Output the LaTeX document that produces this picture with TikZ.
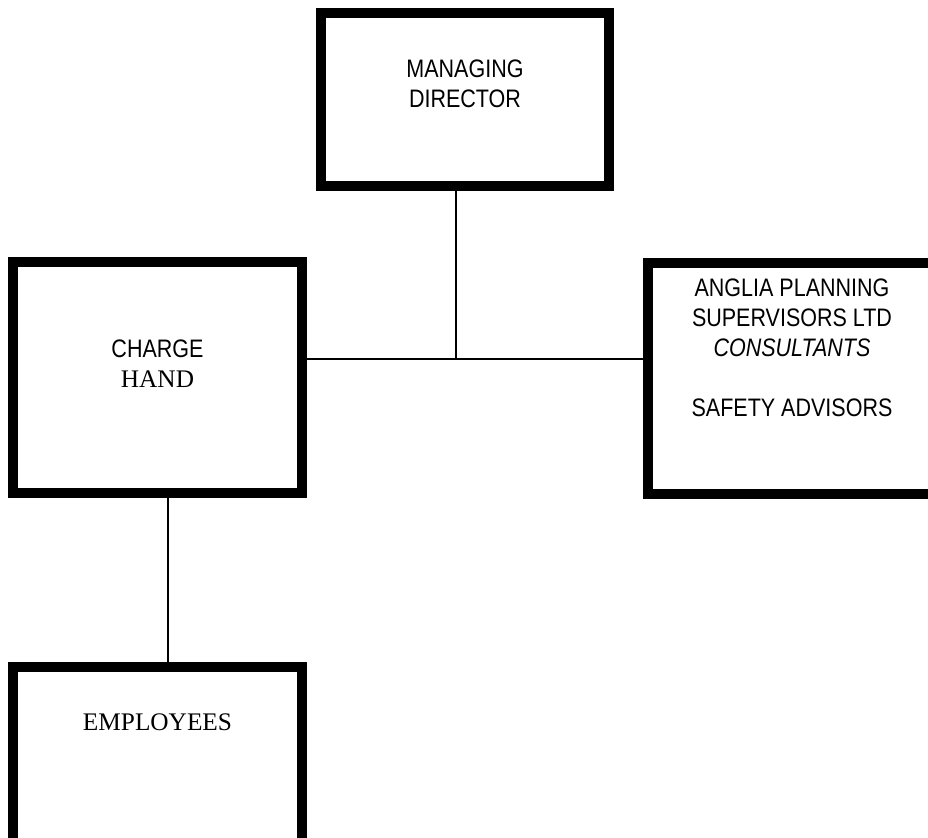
\documentclass[tikz,border=0pt]{standalone}
\usepackage{fontspec}
\setmainfont[FakeStretch=0.85]{Liberation Sans}
\newfontfamily\timesface{Liberation Serif}
\begin{document}
\begin{tikzpicture}[
  orgbox/.style={draw, line width=0.25cm, fill=white, inner sep=0pt},
  orgtext/.style={align=center, anchor=north, inner sep=0pt, font=\fontsize{18}{21.34}\selectfont},
  link/.style={line width=0.9pt}
]
\useasboundingbox (0,0) rectangle (23.2,-20.95);
\clip (0,0) rectangle (23.2,-20.95);
\node[orgbox, minimum width=7.2cm, minimum height=4.325cm] (md) at (11.625,-2.4875) {};
\node[orgbox, minimum width=7.225cm, minimum height=5.775cm] (ch) at (3.9375,-9.4375) {};
\node[orgbox, minimum width=7.2cm, minimum height=5.775cm] (ap) at (19.8,-9.4625) {};
\node[orgbox, minimum width=7.225cm, minimum height=5.775cm] (emp) at (3.9375,-19.5625) {};
\node[orgtext] (mdtext) at (11.625,-1.5) {MANAGING\\DIRECTOR};
\node[orgtext] (chtext) at (3.9375,-8.5) {CHARGE\\{\timesface HAND}};
\node[orgtext] (aptext) at (19.8,-6.975) {ANGLIA PLANNING\\SUPERVISORS LTD\\\textit{CONSULTANTS}\\[21.34pt]SAFETY ADVISORS};
\node[orgtext] (emptext) at (3.9375,-17.825) {\timesface EMPLOYEES};
\coordinate (hub) at (11.4,-8.975);
\draw[link] (hub |- md.south) -- (hub);
\draw[link] (ch.east |- hub) -- (ap.west |- hub);
\draw[link] ([xshift=0.2625cm]ch.south) -- ([xshift=0.2625cm]emp.north);
\end{tikzpicture}
\end{document}
